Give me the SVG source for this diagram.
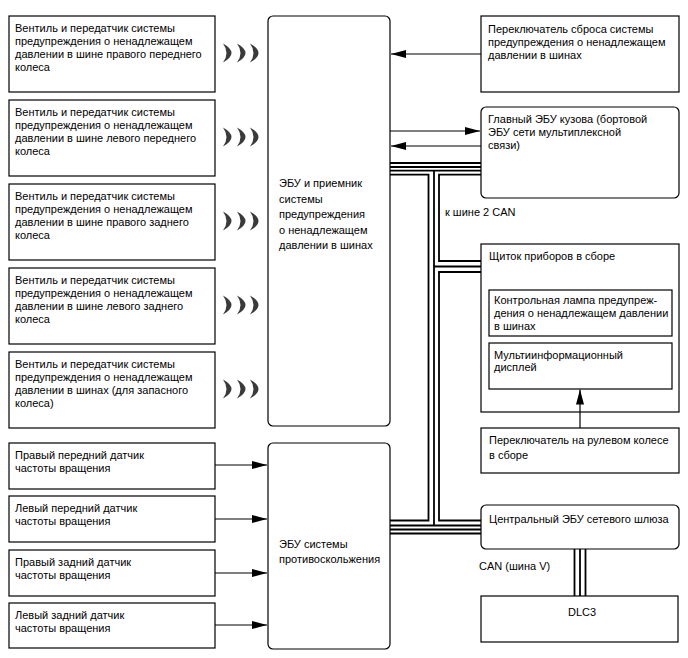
<svg xmlns="http://www.w3.org/2000/svg" width="688" height="658" viewBox="0 0 688 658">
<style>
text{font-family:"Liberation Sans",Arial,sans-serif;font-size:11px;fill:#000}
.b{fill:#fff;stroke:#000;stroke-width:1.2}
.w{fill:#3a3a3a}
.c{fill:none;stroke:#000;stroke-width:1.8}
.a{fill:none;stroke:#000;stroke-width:1.2;marker-end:url(#ah)}
</style>
<defs>
<marker id="ah" markerWidth="15" markerHeight="8" refX="15" refY="4" orient="auto" markerUnits="userSpaceOnUse"><path d="M0,0 L15,4 L0,8 Z" fill="#000"/></marker>
<path id="wave" d="M0,-9.5 Q17,0 0,9.5 Q7,0 0,-9.5 Z M14,-9.5 Q31,0 14,9.5 Q21,0 14,-9.5 Z M27,-9.5 Q44,0 27,9.5 Q34,0 27,-9.5 Z"/>
</defs>
<rect width="688" height="658" fill="#fff"/>

<g id="waves" class="w">
<use href="#wave" x="223" y="53"/>
<use href="#wave" x="223" y="137"/>
<use href="#wave" x="223" y="221"/>
<use href="#wave" x="223" y="305"/>
<use href="#wave" x="223" y="389"/>
</g>

<g id="valve-fr"><rect class="b" x="9" y="16" width="206" height="76"/>
<text x="15" y="32">Вентиль и передатчик системы</text><text x="15" y="45">предупреждения о ненадлежащем</text><text x="15" y="58">давлении в шине правого переднего</text><text x="15" y="71">колеса</text></g>
<g id="valve-fl"><rect class="b" x="9" y="100" width="206" height="76"/>
<text x="15" y="116">Вентиль и передатчик системы</text><text x="15" y="129">предупреждения о ненадлежащем</text><text x="15" y="142">давлении в шине левого переднего</text><text x="15" y="155">колеса</text></g>
<g id="valve-rr"><rect class="b" x="9" y="184" width="206" height="76"/>
<text x="15" y="200">Вентиль и передатчик системы</text><text x="15" y="213">предупреждения о ненадлежащем</text><text x="15" y="226">давлении в шине правого заднего</text><text x="15" y="239">колеса</text></g>
<g id="valve-rl"><rect class="b" x="9" y="268" width="206" height="76"/>
<text x="15" y="284">Вентиль и передатчик системы</text><text x="15" y="297">предупреждения о ненадлежащем</text><text x="15" y="310">давлении в шине левого заднего</text><text x="15" y="323">колеса</text></g>
<g id="valve-spare"><rect class="b" x="9" y="352" width="206" height="76"/>
<text x="15" y="368">Вентиль и передатчик системы</text><text x="15" y="381">предупреждения о ненадлежащем</text><text x="15" y="394">давлении в шинах (для запасного</text><text x="15" y="407">колеса)</text></g>

<g id="sensor-fr"><rect class="b" x="9" y="443" width="206" height="46"/>
<text x="15" y="459">Правый передний датчик</text><text x="15" y="472">частоты вращения</text></g>
<g id="sensor-fl"><rect class="b" x="9" y="496" width="206" height="46"/>
<text x="15" y="512">Левый передний датчик</text><text x="15" y="525">частоты вращения</text></g>
<g id="sensor-rr"><rect class="b" x="9" y="550" width="206" height="46"/>
<text x="15" y="566">Правый задний датчик</text><text x="15" y="579">частоты вращения</text></g>
<g id="sensor-rl"><rect class="b" x="9" y="603" width="206" height="45"/>
<text x="15" y="619">Левый задний датчик</text><text x="15" y="632">частоты вращения</text></g>

<g id="tpms-ecu"><rect class="b" x="268" y="16" width="122" height="410" rx="5"/>
<text x="279" y="187">ЭБУ и приемник</text><text x="279" y="202.5">системы</text><text x="279" y="218">предупреждения</text><text x="279" y="233.5">о ненадлежащем</text><text x="279" y="249">давлении в шинах</text></g>

<g id="abs-ecu"><rect class="b" x="268" y="443" width="122" height="206" rx="5"/>
<text x="279" y="548">ЭБУ системы</text><text x="279" y="562.5">противоскольжения</text></g>

<g id="reset-switch"><rect class="b" x="481" y="16" width="198" height="76"/>
<text x="488" y="33">Переключатель сброса системы</text><text x="488" y="46">предупреждения о ненадлежащем</text><text x="488" y="59">давлении в шинах</text></g>

<g id="body-ecu"><rect class="b" x="481" y="107" width="198" height="91" rx="5"/>
<text x="488" y="123">Главный ЭБУ кузова (бортовой</text><text x="488" y="136">ЭБУ сети мультиплексной</text><text x="488" y="149">связи)</text></g>

<g id="cluster"><rect class="b" x="481" y="244" width="198" height="168"/>
<text x="489" y="260">Щиток приборов в сборе</text></g>
<g id="warning-lamp"><rect class="b" x="489" y="290" width="183" height="46"/>
<text x="494" y="304">Контрольная лампа предупреж-</text><text x="494" y="317">дения о ненадлежащем давлении</text><text x="494" y="330">в шинах</text></g>
<g id="multi-display"><rect class="b" x="489" y="343" width="183" height="46"/>
<text x="494" y="359">Мультиинформационный</text><text x="494" y="371">дисплей</text></g>

<g id="steering-switch"><rect class="b" x="481" y="428" width="198" height="45"/>
<text x="489" y="444">Переключатель на рулевом колесе</text><text x="489" y="459">в сборе</text></g>

<g id="gateway"><rect class="b" x="481" y="505" width="198" height="44" rx="5"/>
<text x="489" y="523">Центральный ЭБУ сетевого шлюза</text></g>

<g id="dlc3"><rect class="b" x="481" y="596" width="197" height="46"/>
<text x="582" y="616" text-anchor="middle">DLC3</text></g>

<g id="connectors">
<path class="c" d="M390,163 H481" stroke-width="2.2"/>
<path class="c" d="M390,167 H481"/>
<path class="c" d="M390,170.7 H481"/>
<path class="c" d="M390,174.7 H428.5 V520.5 H390"/>
<path class="c" d="M481,174.7 H439 V261 H481"/>
<path class="c" d="M481,272 H439 V520.5 H481"/>
<path class="c" d="M434,170.7 V525.5"/>
<path class="c" d="M434,266.5 H481"/>
<path class="c" d="M390,525.5 H481"/>
<path class="c" d="M390,529.5 H481"/>
<path class="c" d="M390,533.5 H481"/>
<path class="c" d="M574.5,549 V596 M580,549 V596 M585.5,549 V596"/>
<path class="a" d="M481,54 H391"/>
<path class="a" d="M390,131 H480"/>
<path class="a" d="M481,146 H391"/>
<path class="a" d="M215,465 H267"/>
<path class="a" d="M215,519 H267"/>
<path class="a" d="M215,573 H267"/>
<path class="a" d="M215,625 H267"/>
<path class="a" d="M580,428 V389.5"/>
<text x="445" y="216">к шине 2 CAN</text>
<text x="479" y="570">CAN (шина V)</text>
</g>
</svg>
